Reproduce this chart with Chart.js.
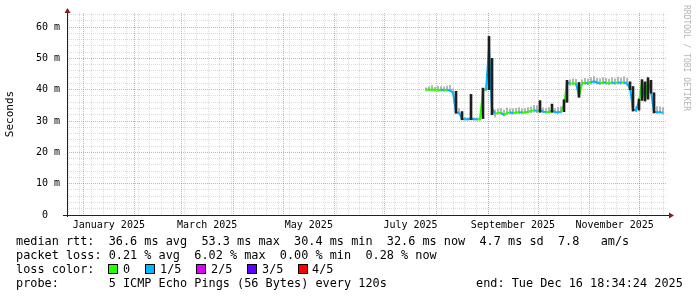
<!DOCTYPE html>
<html><head><meta charset="utf-8">
<script src="https://cdn.jsdelivr.net/npm/chart.js@4"></script>
<style>
html,body{margin:0;padding:0;background:#fff;}
#wrap{position:relative;width:697px;height:297px;overflow:hidden;font-family:"DejaVu Sans Mono",monospace;}
#wrap canvas{position:absolute;left:0;top:0;}
.t{position:absolute;font-size:11.85px;line-height:14px;white-space:pre;color:#000;}
.box{position:absolute;width:8px;height:8px;border:1px solid #000;top:264px;}
#wm{position:absolute;left:691px;top:5px;font-size:8px;line-height:9px;color:#b4b4b4;transform:rotate(90deg);transform-origin:0 0;white-space:pre;}
</style></head>
<body><div id="wrap"><canvas id="c" width="697" height="297"></canvas>
<div class="t" style="left:16px;top:234px">median rtt:  36.6 ms avg  53.3 ms max  30.4 ms min  32.6 ms now  4.7 ms sd  7.8   am/s</div>
<div class="t" style="left:16px;top:248px">packet loss: 0.21 % avg  6.02 % max  0.00 % min  0.28 % now</div>
<div class="t" style="left:16px;top:262px">loss color:</div>
<div class="box" style="left:108px;background:#26ff00"></div><div class="t" style="left:123px;top:262px">0</div>
<div class="box" style="left:145px;background:#00b8ff"></div><div class="t" style="left:160px;top:262px">1/5</div>
<div class="box" style="left:196px;background:#dd00ff"></div><div class="t" style="left:211px;top:262px">2/5</div>
<div class="box" style="left:247px;background:#5e00ff"></div><div class="t" style="left:262px;top:262px">3/5</div>
<div class="box" style="left:298px;background:#ff0000"></div><div class="t" style="left:312px;top:262px">4/5</div>
<div class="t" style="left:16px;top:276px">probe:       5 ICMP Echo Pings (56 Bytes) every 120s</div>
<div class="t" style="left:476px;top:276px">end: Tue Dec 16 18:34:24 2025</div>
<div id="wm">RRDTOOL / TOBI OETIKER</div>
</div>
<script>
// x values: days since 2025-01-01 00:00
const days = [205.8,207.6,209.4,211.2,213.0,214.8,216.6,218.4,220.2,222.0,
  223.8,225.6,227.4,229.2,231.0,232.8,234.6,236.4,238.2,240.0,
  241.8,243.6,245.4,247.2,249.0,250.8,252.6,254.4,256.2,258.0,
  259.8,261.6,263.4,265.2,267.0,268.8,270.6,272.4,274.2,276.0,
  277.8,279.6,281.4,283.2,285.0,286.8,288.6,290.4,292.2,294.0,
  295.8,297.6,299.4,301.2,303.0,304.8,306.6,308.4,310.2,312.0,
  313.8,315.6,317.4,319.2,321.0,322.8,324.6,326.4,328.2,330.0,
  331.8,333.6,335.4,337.2,339.0,340.8,342.6,344.4,346.2,348.0];
// median rtt in ms
const median = [40.0,40.1,40.0,40.1,39.9,40.0,39.9,40.0,39.8,39.0,
  32.8,32.6,30.7,30.6,30.6,30.8,30.6,30.6,30.6,39.9,
  40.0,53.3,34.0,32.3,32.6,32.6,31.9,32.6,32.7,32.6,
  32.7,32.8,32.7,32.8,33.0,33.2,33.5,33.2,33.6,33.0,
  32.9,32.9,33.3,32.9,32.8,33.0,35.0,42.3,41.9,42.1,
  42.0,38.0,42.0,42.2,42.0,42.4,42.7,42.3,42.1,42.3,
  42.2,42.0,42.3,42.1,42.3,42.2,42.4,42.0,40.5,33.6,
  33.4,36.4,42.5,36.8,43.0,39.4,33.0,32.8,32.9,32.6];
// smoke (min / max ping) in ms
const smokeLo = [39.6,39.7,39.6,39.7,39.5,39.6,39.5,39.5,39.4,38.6,
  32.5,32.2,30.4,30.3,30.3,30.4,30.3,30.3,30.3,30.8,
  39.6,40.0,32.0,31.3,32.2,32.2,31.6,32.2,32.3,32.2,
  32.3,32.4,32.3,32.4,32.6,32.7,32.8,32.7,32.8,32.6,
  32.5,32.5,32.8,32.5,32.4,32.5,33.0,36.0,41.4,41.6,
  41.5,37.6,41.5,41.7,41.6,41.8,42.0,41.8,41.6,41.8,
  41.7,41.6,41.8,41.7,41.8,41.7,41.8,41.4,40.0,33.2,
  33.0,33.5,36.6,36.4,37.0,38.9,32.6,32.4,32.5,32.2];
const smokeHi = [40.6,40.9,41.3,40.8,41.2,41.0,40.9,41.2,41.4,40.3,
  39.5,34.0,33.0,31.2,31.0,38.5,31.0,31.0,31.2,40.5,
  40.6,57.0,50.0,33.5,33.8,34.0,33.5,34.2,33.9,34.0,
  34.1,34.3,33.9,34.0,34.3,34.5,35.0,34.9,36.5,34.2,
  34.0,34.3,35.4,34.0,34.4,34.6,36.8,43.0,43.2,43.5,
  43.3,42.3,43.2,43.6,43.4,43.9,44.2,43.6,43.5,43.9,
  43.6,43.4,43.8,43.5,44.0,43.7,44.1,43.6,42.5,41.0,
  34.5,37.0,43.2,42.5,43.8,43.0,39.0,34.6,34.5,34.3];
// lost pings out of 5
const loss = [0,0,0,0,0,0,1,0,1,1,
  1,1,1,1,1,1,1,1,0,0,
  0,1,1,1,0,0,1,0,0,1,
  0,0,1,0,0,0,0,1,0,1,
  1,0,0,1,1,1,0,0,1,0,
  0,1,0,0,1,0,1,1,1,0,
  1,0,0,1,0,1,0,1,1,1,
  1,1,0,1,0,0,1,1,1,1];
const monthStarts = [-31,0,31,59,90,120,151,181,212,243,273,304,334,365];
const monthLabels = ['', 'January 2025','','March 2025','','May 2025','','July 2025','','September 2025','','November 2025','',''];
const firstMonday = -9;
const yLabelTicks = [0,10,20,30,40,50,60];

const lossColors = ['#26ff00','#00b8ff','#dd00ff','#5e00ff','#ff0000'];
const minorGrid = 'rgba(150,150,150,0.33)';
const majorGrid = 'rgba(222,79,79,0.5)';
const XMIN = -9.6, XMAX = 350.4;

const smokeData = days.map((d,i)=>({x:d, y:[smokeLo[i], smokeHi[i]]}));
const spreadData = days.map((d,i)=>({x:d, y:(smokeHi[i]-smokeLo[i] > 2.45) ? [smokeLo[i], smokeHi[i]] : null}));
const medianData = days.map((d,i)=>({x:d, y:median[i]}));

const xTicks = [];
for (let d = firstMonday; d <= XMAX; d += 7) if (d > XMIN) xTicks.push({value:d, kind:'minor'});
monthStarts.forEach((m,i)=>{
  if (m > XMIN && m < XMAX) xTicks.push({value:m, kind:'major'});
  if (monthLabels[i]) xTicks.push({value:(m + monthStarts[i+1])/2, kind:'label', text:monthLabels[i]});
});
xTicks.sort((a,b)=>a.value-b.value);

const yTicks = [];
for (let v = 0; v <= 64; v += 2) yTicks.push({value:v});

const axesPlugin = {
  id:'axes',
  afterDraw(chart){
    const {ctx, chartArea:a} = chart;
    ctx.save();
    const y0 = Math.round(a.bottom)+0.5, x0 = Math.round(a.left)+0.5;
    ctx.strokeStyle = '#1f1f1f'; ctx.lineWidth = 1;
    ctx.beginPath();
    ctx.moveTo(a.left-4, y0); ctx.lineTo(a.right+2, y0);
    ctx.moveTo(x0, a.bottom+2); ctx.lineTo(x0, a.top);
    ctx.stroke();
    ctx.fillStyle = '#801f1f';
    ctx.beginPath();
    ctx.moveTo(a.right+2, y0-3); ctx.lineTo(a.right+7, y0); ctx.lineTo(a.right+2, y0+3); ctx.closePath(); ctx.fill();
    ctx.beginPath();
    ctx.moveTo(x0-3, a.top); ctx.lineTo(x0, a.top-5); ctx.lineTo(x0+3, a.top); ctx.closePath(); ctx.fill();
    ctx.restore();
  }
};

const mono = "'DejaVu Sans Mono', monospace";
new Chart(document.getElementById('c'), {
  type:'line',
  data:{datasets:[
    {type:'bar', data:smokeData, backgroundColor:'#a8a8a8', barThickness:1, grouped:false, order:3, borderWidth:0},
    {type:'line', data:medianData, borderWidth:2, pointRadius:0, tension:0, order:2,
      segment:{borderColor:c=>lossColors[loss[c.p1DataIndex]]}, borderColor:lossColors[0]},
    {type:'bar', data:spreadData, backgroundColor:'#1e1e1e', barThickness:2, grouped:false, order:1, borderWidth:0}
  ]},
  options:{
    responsive:false, animation:false,
    layout:{padding:{left:0, top:13, right:30, bottom:62}},
    plugins:{legend:{display:false}, tooltip:{enabled:false}},
    scales:{
      x:{type:'linear', min:XMIN, max:XMAX, offset:false,
        afterBuildTicks:s=>{s.ticks = xTicks.map(t=>Object.assign({}, t));},
        afterFit:s=>{s.height = 20;},
        grid:{offset:false, drawTicks:false, color:c=>c.tick ? (c.tick.kind==='major'?majorGrid:(c.tick.kind==='minor'?minorGrid:'rgba(0,0,0,0)')) : 'rgba(0,0,0,0)'},
        border:{display:false, dash:[1,1]},
        ticks:{autoSkip:false, maxRotation:0, padding:4, color:'#000', font:{family:mono, size:10},
          callback:function(v,i,ticks){ return ticks[i].text || ''; }}
      },
      y:{type:'linear', min:0, max:64.5,
        afterBuildTicks:s=>{s.ticks = yTicks.map(t=>Object.assign({}, t));},
        afterFit:s=>{s.width = 67;},
        grid:{drawTicks:false, color:c=>{ const v = c.tick ? c.tick.value : -1; if (v<=0) return 'rgba(0,0,0,0)'; return v%10===0 ? majorGrid : minorGrid; }},
        border:{display:false, dash:[1,1]},
        title:{display:true, text:'Seconds', color:'#000', font:{family:mono, size:11}, padding:{top:4, bottom:0}},
        ticks:{autoSkip:false, padding:7, color:'#000', font:{family:mono, size:10},
          callback:v=> yLabelTicks.includes(v) ? (v===0 ? '0  ' : v + ' m') : ''}
      }
    }
  },
  plugins:[axesPlugin]
});
</script>
</body></html>
